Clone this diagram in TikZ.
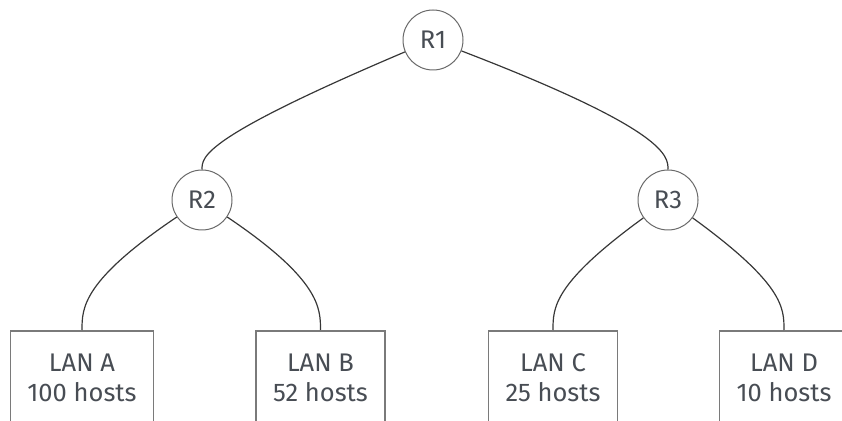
\documentclass[tikz,border=0pt]{standalone}
\usepackage{fontspec}
\setmainfont{Fira Sans}
\definecolor{inkText}{RGB}{72,77,84}
\definecolor{ringGray}{RGB}{105,105,105}
\definecolor{boxGray}{RGB}{122,122,122}
\definecolor{wireGray}{RGB}{55,55,55}
\tikzset{
  router/.style={circle, draw=ringGray, line width=1pt, fill=white,
    minimum size=60pt, inner sep=0pt, text=inkText,
    font=\fontsize{25.5}{30}\selectfont},
  lanbox/.style={rectangle, draw=boxGray, line width=1.6pt, fill=white,
    anchor=north, align=center, inner xsep=17pt, minimum height=94pt,
    text=inkText, font=\fontsize{25.5}{30}\selectfont},
  link/.style={draw=wireGray, line width=1.2pt},
}
\begin{document}
\begin{tikzpicture}[x=1pt, y=1pt]
  \useasboundingbox (0,0) rectangle (842,420);
  \clip (0,0) rectangle (842,420);

  % routers
  \node[router] (r1) at (433,380) {R1};
  \node[router] (r2) at (202,220) {R2};
  \node[router] (r3) at (668,220) {R3};

  % LAN segments, top edge at y = 90
  \node[lanbox] (lana) at (82,90)  {LAN A\\100 hosts};
  \node[lanbox] (lanb) at (320.5,90) {LAN B\\52 hosts};
  \node[lanbox] (lanc) at (553,90) {LAN C\\25 hosts};
  \node[lanbox] (land) at (784,90) {LAN D\\10 hosts};

  % backbone links
  \path[link] (r1.203) .. controls +(203:220pt) and +(90:13pt) .. (r2.north);
  \path[link] (r1.-21) .. controls +(-21:222pt) and +(90:13pt) .. (r3.north);

  % access links
  \path[link] (r2.214) .. controls +(214:114pt) and +(90:22pt) .. (lana.north);
  \path[link] (r2.-34) .. controls +(-34:112pt) and +(90:22pt) .. (lanb.north);
  \path[link] (r3.216) .. controls +(216:112pt) and +(90:22pt) .. (lanc.north);
  \path[link] (r3.-36) .. controls +(-36:113pt) and +(90:22pt) .. (land.north);
\end{tikzpicture}
\end{document}
